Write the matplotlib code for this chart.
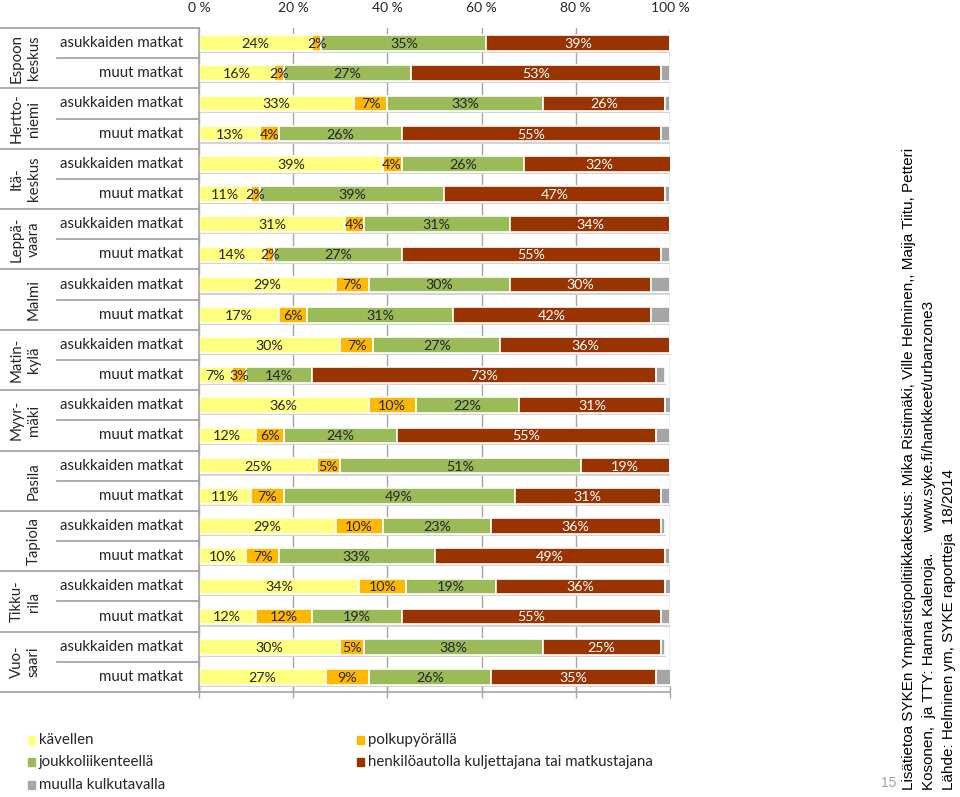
import matplotlib
matplotlib.use("Agg")
import matplotlib.pyplot as plt
from matplotlib.transforms import blended_transform_factory
import numpy as np

plt.rcParams['font.family'] = ['Lato', 'DejaVu Sans']

groups = ["Espoon\nkeskus", "Hertto-\nniemi", "Itä-\nkeskus", "Leppä-\nvaara", "Malmi",
          "Matin-\nkylä", "Myyr-\nmäki", "Pasila", "Tapiola", "Tikku-\nrila", "Vuo-\nsaari"]
row_types = ["asukkaiden matkat", "muut matkat"]

walk    = [24, 16, 33, 13, 39, 11, 31, 14, 29, 17, 30, 7, 36, 12, 25, 11, 29, 10, 34, 12, 30, 27]
bike    = [2, 2, 7, 4, 4, 2, 4, 2, 7, 6, 7, 3, 10, 6, 5, 7, 10, 7, 10, 12, 5, 9]
transit = [35, 27, 33, 26, 26, 39, 31, 27, 30, 31, 27, 14, 22, 24, 51, 49, 23, 33, 19, 19, 38, 26]
car     = [39, 53, 26, 55, 32, 47, 34, 55, 30, 42, 36, 73, 31, 55, 19, 31, 36, 49, 36, 55, 25, 35]
other   = [1, 2, 1, 2, 0, 1, 0, 2, 4, 4, 1, 2, 2, 3, 0, 2, 1, 1, 2, 2, 1, 4]

series_names = ["kävellen", "polkupyörällä", "joukkoliikenteellä",
                "henkilöautolla kuljettajana tai matkustajana", "muulla kulkutavalla"]
colors = ["#FFFF80", "#FFB800", "#9BBB59", "#993300", "#A6A6A6"]
text_colors = ["#262626", "#262626", "#262626", "white", None]
xticks = [0, 20, 40, 60, 80, 100]
xticklabels = ["0 %", "20 %", "40 %", "60 %", "80 %", "100 %"]

W, H = 960, 797
fig = plt.figure(figsize=(W / 100, H / 100), dpi=100)
top_px, bot_px, left_px, right_px = 28, 692, 199, 670
ax = fig.add_axes([left_px / W, 1 - bot_px / H, (right_px - left_px) / W, (bot_px - top_px) / H])

n = len(walk)
y = np.arange(n)
data = [walk, bike, transit, car, other]
totals = np.sum(np.array(data), axis=0)
bh = 0.52

# shadow
ax.barh(y + 0.07, totals, left=0.25, height=bh, color="#d4d4d4", zorder=1, linewidth=0)

left = np.zeros(n)
for vals, c, tc in zip(data, colors, text_colors):
    vals = np.array(vals, dtype=float)
    ax.barh(y, vals, left=left, height=bh, color=c, edgecolor="white", linewidth=1.2, zorder=2)
    if tc is not None:
        for i in range(n):
            if vals[i] > 0:
                ax.text(left[i] + vals[i] / 2, y[i] + 0.03, f"{int(vals[i])}%", ha="center", va="center",
                        fontsize=10.3, color=tc, zorder=3)
    left += vals

ax.set_xlim(0, 100)
ax.set_ylim(n - 0.5, -0.5)
ax.set_yticks([])
ax.set_xticks(xticks)
ax.set_xticklabels([])
ax.grid(axis="x", color="#a6a6a6", linewidth=1, zorder=0)
ax.set_axisbelow(True)
ax.tick_params(axis="x", direction="inout", length=8, color="#a6a6a6", width=1)
for s in ["top", "right"]:
    ax.spines[s].set_visible(False)
for s in ["left", "bottom"]:
    ax.spines[s].set_color("#a6a6a6")
    ax.spines[s].set_linewidth(1.2)

secax = ax.secondary_xaxis("top")
secax.set_xticks(xticks)
secax.set_xticklabels(xticklabels, fontsize=10, color="#262626")
secax.tick_params(length=0, pad=10)
secax.spines["top"].set_visible(False)

# left table
tr = blended_transform_factory(fig.transFigure, ax.transData)
x0, x1, x2 = 0 / W, 57 / W, left_px / W
for k in range(n + 1):
    yy = k - 0.5
    xs = x0 if k % 2 == 0 else x1
    ax.plot([xs, x2], [yy, yy], transform=tr, color="#a6a6a6", lw=1.3, clip_on=False, zorder=5)
for i in range(n):
    ax.text(183 / W, i, row_types[i % 2], transform=tr, ha="right", va="center",
            fontsize=10.8, color="#262626")
for g, name in enumerate(groups):
    ax.text(41 / W, 2 * g + 0.5, name, transform=tr, ha="right", va="center", rotation=90,
            fontsize=10.8, color="#262626", linespacing=1.3, multialignment="center")

# legend
leg_pos = [(28, 740), (357, 740), (28, 762), (357, 762), (28, 785)]
for (px, py), name, c in zip(leg_pos, series_names, colors):
    fig.patches.append(plt.Rectangle((px / W, 1 - (py + 4) / H), 7 / W, 8 / H,
                                     transform=fig.transFigure, color=c, figure=fig))
    fig.text((px + 11) / W, 1 - py / H, name, ha="left", va="center", fontsize=10.8, color="#262626")

# right side source text
src = ["Lisätietoa SYKEn Ympäristöpolitiikkakeskus: Mika Ristimäki, Ville Helminen,, Maija Tiitu, Petteri",
       "Kosonen,  ja TTY: Hanna Kalenoja.     www.syke.fi/hankkeet/urbanzone3",
       "Lähde: Helminen ym, SYKE raportteja  18/2014"]
for xc, s in zip([909, 929, 949], src):
    fig.text(xc / W, 1 - 790 / H, s, rotation=90, ha="center", va="bottom", fontsize=11,
             family=["Liberation Sans", "DejaVu Sans"], color="black")
fig.text(889 / W, 1 - 783 / H, "15", ha="center", va="center", fontsize=10, color="#a0a0a0",
         family=["Liberation Sans", "DejaVu Sans"])

fig.savefig("out.png", dpi=100)
